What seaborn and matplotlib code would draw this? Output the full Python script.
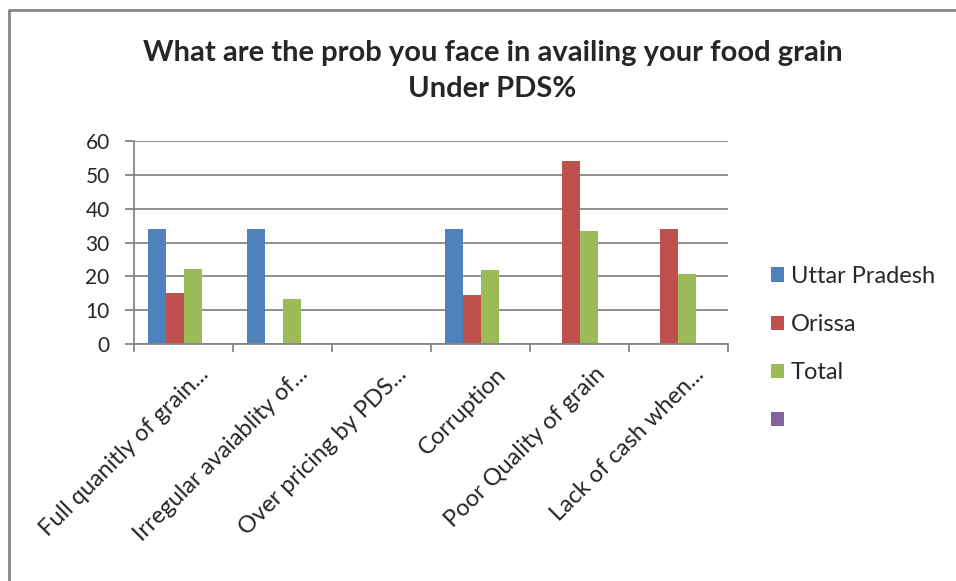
import numpy as np
import pandas as pd
import matplotlib
matplotlib.use("Agg")
import matplotlib.pyplot as plt
import matplotlib.transforms as mtransforms
from matplotlib.lines import Line2D
import seaborn as sns

# data (percent)
problems = ["Full quanitly of grain...", "Irregular avaiablity of...",
            "Over pricing by PDS...", "Corruption", "Poor Quality of grain",
            "Lack of cash when..."]
uttar_pradesh = [34, 34, 0, 34, 0, 0]
orissa = [15, 0.4, 0, 14.5, 54, 34]
total = [22.2, 13.3, 0, 21.9, 33.4, 20.7]
blank_series = [0, 0, 0, 0, 0, 0]

series_names = ["Uttar Pradesh", "Orissa", "Total", " "]
colors = ["#4F81BD", "#C0504D", "#9BBB59", "#8064A2"]

sns.set_style("white")
plt.rcParams["font.family"] = ["Lato", "DejaVu Sans"]

df = pd.DataFrame({
    "problem": problems * 4,
    "value": uttar_pradesh + orissa + total + blank_series,
    "series": [s for s in series_names for _ in problems],
})

fig = plt.figure(figsize=(9.56, 5.81), dpi=100)
ax = fig.add_axes([0.1402, 0.4079, 0.6213, 0.3494])

sns.barplot(data=df, x="problem", y="value", hue="series", order=problems,
            hue_order=series_names, palette=colors, width=4 / 5.5,
            linewidth=0, saturation=1, ax=ax, errorbar=None)

grid_c = "#868686"
ax.set_ylim(0, 60)
ax.set_xlim(-0.5, len(problems) - 0.5)
ax.set_yticks(np.arange(0, 61, 10))
ax.yaxis.grid(True, color=grid_c, linewidth=1.3)
ax.set_axisbelow(True)
for side in ["top", "right"]:
    ax.spines[side].set_visible(False)
for side in ["left", "bottom"]:
    ax.spines[side].set_color(grid_c)
    ax.spines[side].set_linewidth(1.3)

ax.tick_params(axis="y", direction="out", length=6.5, width=1.3, color=grid_c,
               labelsize=15, pad=11, left=True)
ax.set_xticks(np.arange(-0.5, len(problems)), minor=True)
ax.tick_params(axis="x", which="minor", direction="out", length=6, width=1.3,
               color=grid_c, bottom=True)
ax.tick_params(axis="x", which="major", length=0, labelsize=17, pad=0)
ax.set_xlabel("")
ax.set_ylabel("")

offset = mtransforms.ScaledTranslation(0.22, -0.27, fig.dpi_scale_trans)
for lab in ax.get_xticklabels():
    lab.set_rotation(45)
    lab.set_ha("right")
    lab.set_va("center")
    lab.set_rotation_mode("anchor")
    lab.set_transform(lab.get_transform() + offset)

handles, labels = ax.get_legend_handles_labels()
ax.legend(handles, labels, loc="center left", bbox_to_anchor=(0.794, 0.40),
          bbox_transform=fig.transFigure, frameon=False, fontsize=17,
          borderpad=0, handlelength=0.55, handleheight=0.55, handletextpad=0.3,
          labelspacing=1.15)

fig.text(0.515, 0.878, "What are the prob you face in availing your food grain\nUnder PDS%",
         ha="center", va="center", fontsize=21, fontweight="bold",
         linespacing=1.5)

# outer chart frame (top and left edges visible)
fig.add_artist(Line2D([0.0095, 0.0095, 1.0], [0.0, 0.983, 0.983],
                      transform=fig.transFigure, color=grid_c, linewidth=2))

fig.savefig("out.png", dpi=100)
